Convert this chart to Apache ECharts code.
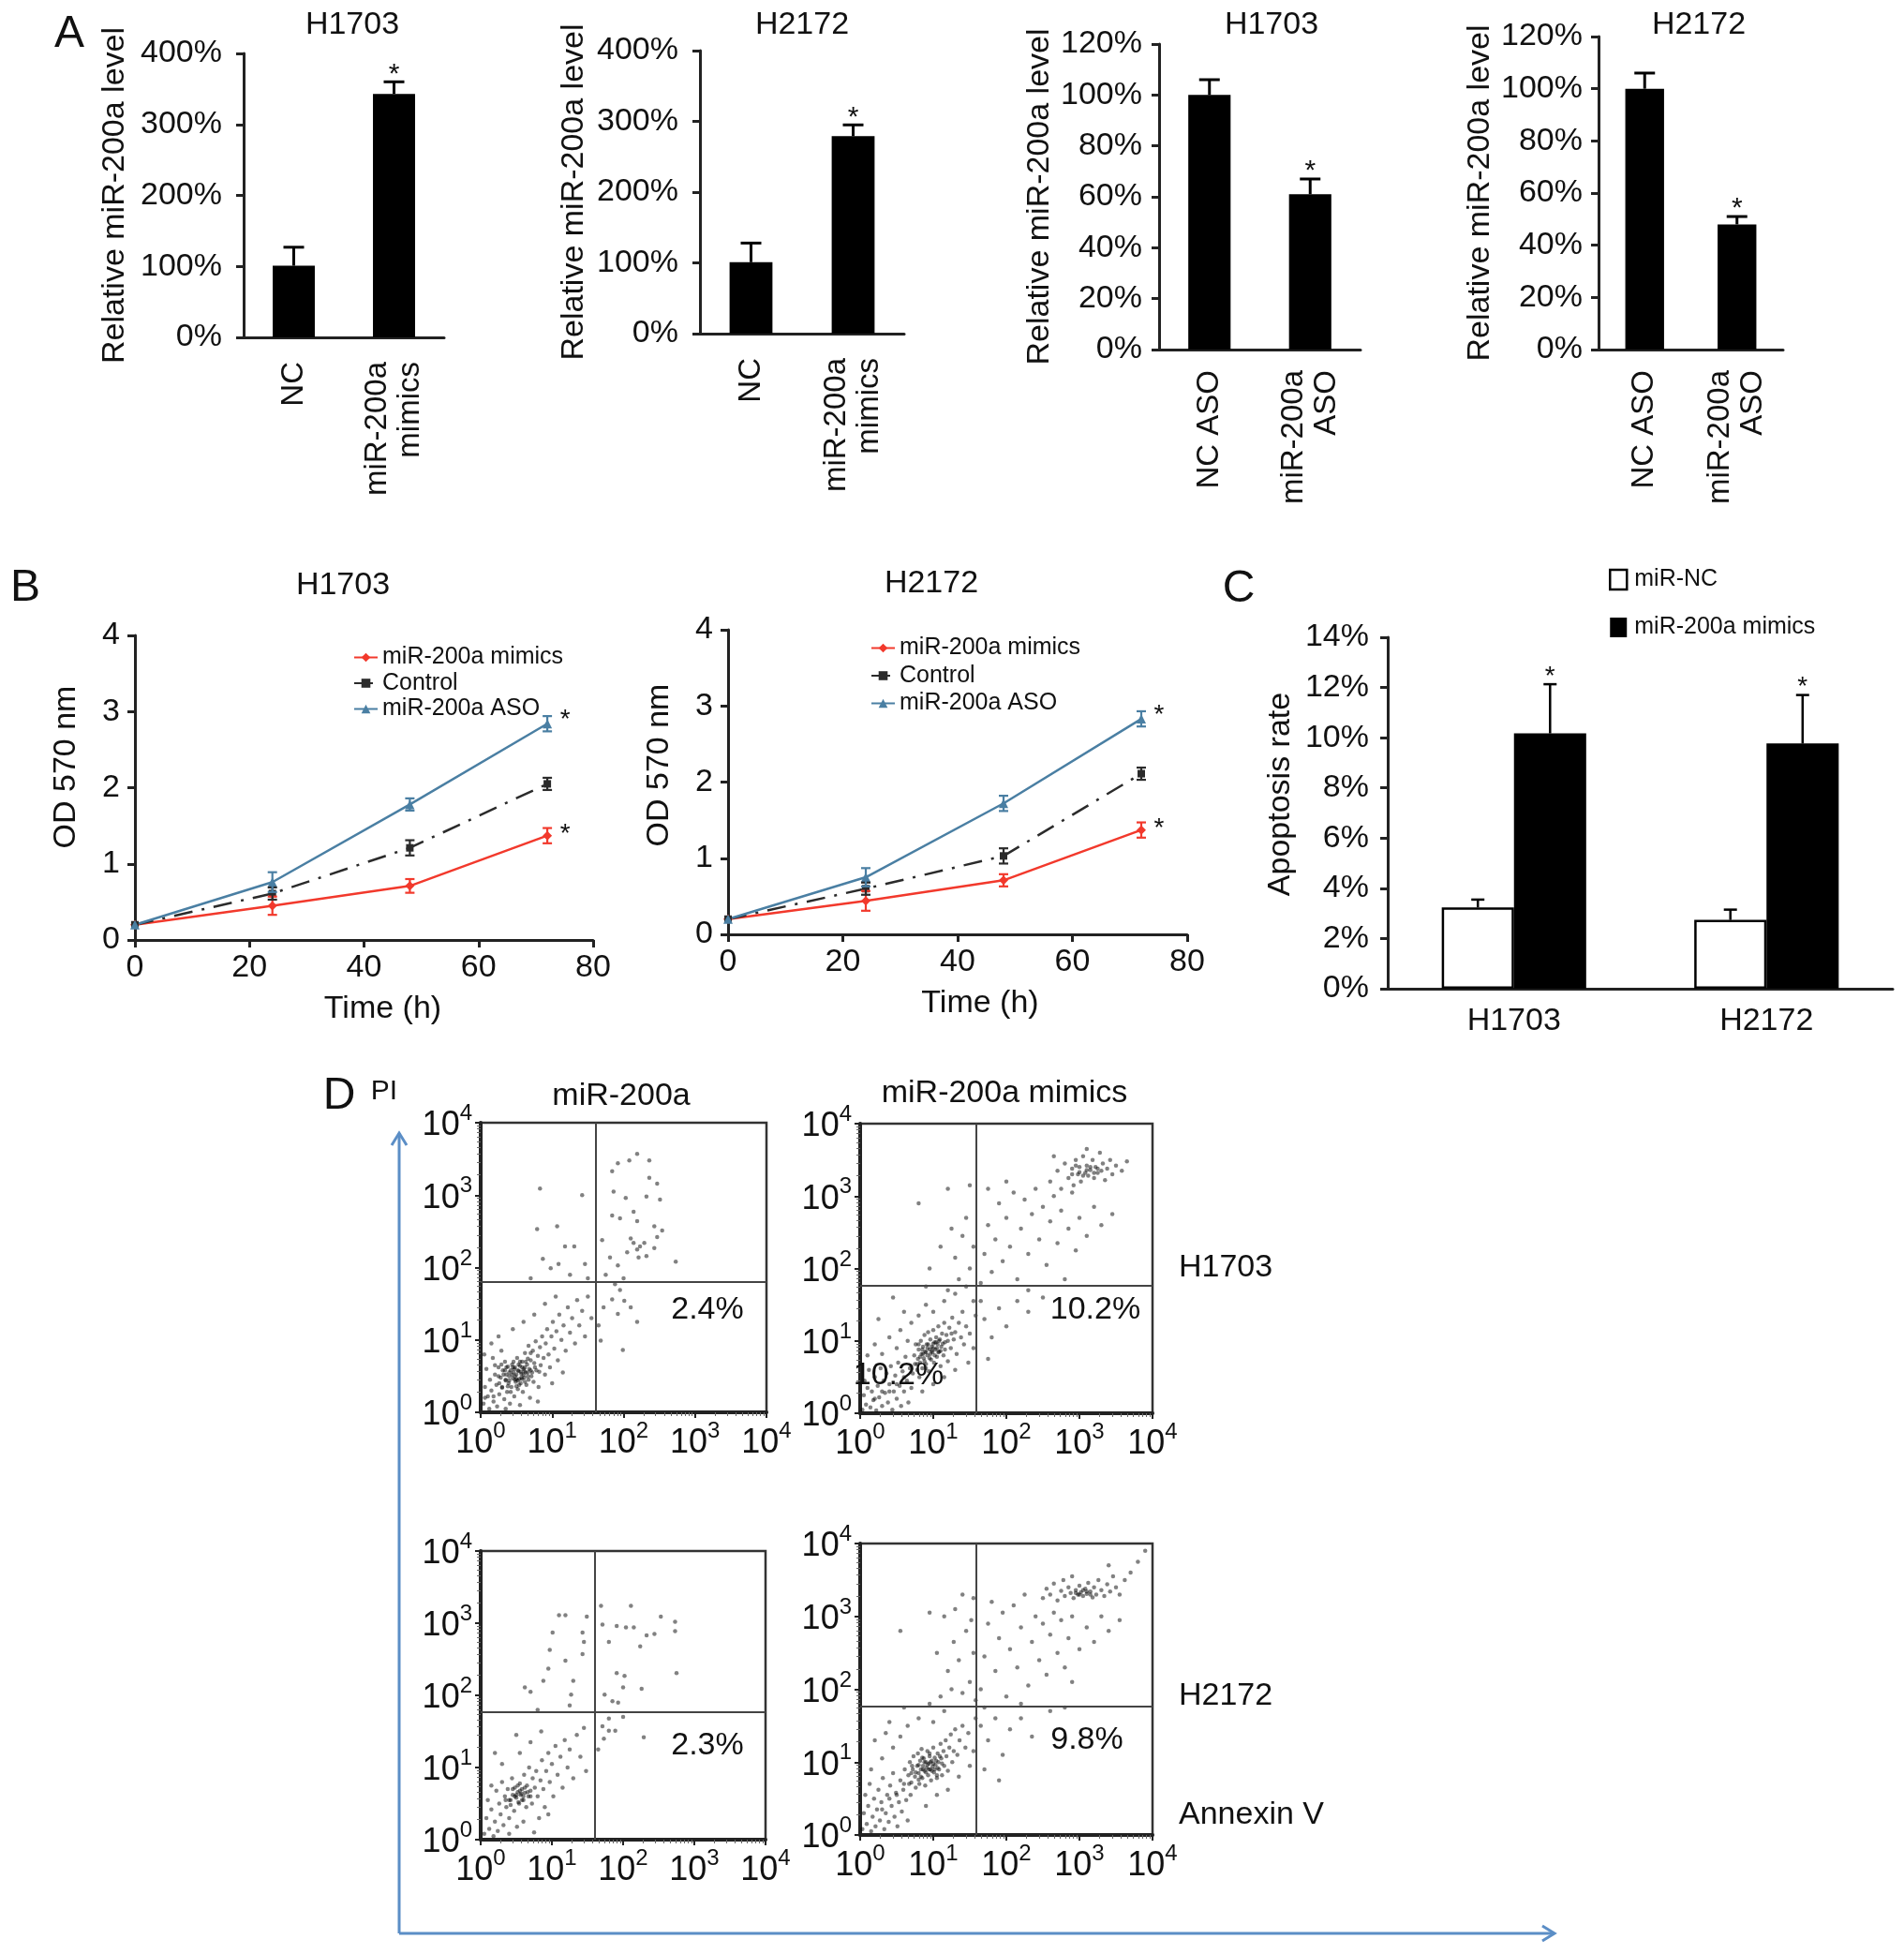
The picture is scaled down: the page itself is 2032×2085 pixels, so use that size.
<!DOCTYPE html>
<html>
<head>
<meta charset="utf-8">
<script src="https://cdn.jsdelivr.net/npm/echarts/dist/echarts.min.js"></script>
<style>
  html, body { margin: 0; padding: 0; background: #fff; }
  #chart { width: 2032px; height: 2085px; }
</style>
</head>
<body>
<div id="chart"></div>
<script>
// ---------- data ----------

// A: relative miR-200a level (% of NC)
const aCatsMimic = ['NC', 'miR-200a\nmimics'];
const aCatsAso = ['NC ASO', 'miR-200a\nASO'];
const aH1703Mimic = [101, 343];
const aH1703MimicErr = [26, 17];
const aH2172Mimic = [101, 279];
const aH2172MimicErr = [27, 16];
const aH1703Aso = [100, 61];
const aH1703AsoErr = [6, 6];
const aH2172Aso = [100, 48];
const aH2172AsoErr = [6, 3];
const aStars = [0, 1];

// B: OD 570 nm over time (h)
const bTimes = [0, 24, 48, 72];
const bH1703Mimic = [0.2, 0.45, 0.71, 1.37];
const bH1703MimicErr = [0, 0.12, 0.09, 0.1];
const bH1703Ctrl = [0.2, 0.61, 1.21, 2.05];
const bH1703CtrlErr = [0, 0.08, 0.1, 0.08];
const bH1703Aso = [0.2, 0.76, 1.78, 2.84];
const bH1703AsoErr = [0, 0.13, 0.08, 0.1];
const bH2172Mimic = [0.2, 0.44, 0.71, 1.37];
const bH2172MimicErr = [0, 0.13, 0.08, 0.1];
const bH2172Ctrl = [0.2, 0.6, 1.03, 2.11];
const bH2172CtrlErr = [0, 0.08, 0.1, 0.08];
const bH2172Aso = [0.2, 0.75, 1.72, 2.83];
const bH2172AsoErr = [0, 0.12, 0.1, 0.1];
const bStars = [0, 0, 0, 1];

// C: apoptosis rate (%)
const cCats = ['H1703', 'H2172'];
const cNC = [3.24, 2.74];
const cNCErr = [0.31, 0.41];
const cMimic = [10.17, 9.77];
const cMimicErr = [1.96, 1.93];
const cStars = [1, 1];

// D: flow cytometry events, [log10 Annexin V, log10 PI]
const dH1703Ctrl = [
  [0.04,0.12],[0.06,0.35],[0.08,0.6],[0.1,0.22],[0.12,0.05],[0.13,0.45],[0.15,0.3],[0.17,0.75],[0.18,0.15],[0.2,0.52],
  [0.22,0.38],[0.23,0.08],[0.25,0.62],[0.26,0.25],[0.28,0.48],[0.29,0.85],[0.3,0.34],[0.31,0.58],[0.33,0.18],[0.34,0.7],
  [0.35,0.44],[0.36,0.52],[0.37,0.28],[0.38,0.63],[0.39,0.4],[0.4,0.5],[0.41,0.12],[0.42,0.58],[0.43,0.35],[0.44,0.66],
  [0.45,0.47],[0.46,0.55],[0.47,0.22],[0.48,0.62],[0.49,0.42],[0.5,0.52],[0.51,0.75],[0.52,0.32],[0.53,0.57],[0.54,0.46],
  [0.55,0.64],[0.56,0.4],[0.57,0.53],[0.58,0.7],[0.59,0.28],[0.6,0.6],[0.61,0.48],[0.62,0.82],[0.63,0.55],[0.64,0.38],
  [0.65,0.66],[0.66,0.5],[0.67,0.92],[0.68,0.6],[0.69,0.2],[0.7,0.72],[0.72,0.55],[0.73,0.85],[0.74,0.42],[0.75,0.68],
  [0.77,0.98],[0.78,0.58],[0.8,0.78],[0.81,0.35],[0.83,0.9],[0.84,0.65],[0.86,1.05],[0.88,0.75],[0.9,0.52],[0.91,0.95],
  [0.93,1.15],[0.95,0.8],[0.97,0.62],[0.99,1.05],[1.01,1.25],[1.03,0.88],[1.06,1.12],[1.08,0.72],[1.1,1.35],[1.13,1.0],
  [1.16,1.2],[1.19,0.85],[1.22,1.45],[1.25,1.1],[1.28,1.3],[1.32,0.95],[1.35,1.55],[1.38,1.2],[1.42,1.4],[1.46,1.05],
  [1.5,1.6],[1.55,1.3],[0.15,0.95],[0.25,1.05],[0.45,1.15],[0.6,1.25],[0.75,1.35],[0.9,1.5],[1.05,1.6],[0.35,0.05],
  [0.55,0.1],[0.8,0.15],[1.0,0.4],[1.15,0.55],[0.2,0.65],[0.05,0.8],[0.45,0.62],[0.52,0.58],[0.58,0.46],[0.62,0.62],
  [0.55,0.7],[0.48,0.45],[0.4,0.55],[0.66,0.55],[0.7,0.82],[0.35,0.45],[0.3,0.35],[0.25,0.5],[0.18,0.22],[0.06,0.2],
  [0.32,0.52],[0.36,0.62],[0.4,0.44],[0.44,0.52],[0.47,0.6],[0.5,0.36],[0.53,0.66],[0.56,0.56],[0.6,0.52],[0.63,0.7],
  [0.67,0.45],[0.7,0.58],[0.26,0.4],[0.29,0.66],[0.42,0.28],[0.46,0.7],[0.5,0.46],[0.54,0.38],[0.58,0.62],[0.62,0.42],
  [0.66,0.74],[0.71,0.5],[0.76,0.62],[0.82,0.56],[0.38,0.36],[0.34,0.58],[0.48,0.5],[0.52,0.44],[0.57,0.48],[0.61,0.57],
  [0.83,3.09],[1.42,3.0],[0.79,2.53],[1.07,2.57],[1.31,2.29],[1.18,2.29],[1.46,2.05],[1.09,2.05],[0.98,1.99],[0.87,2.12],
  [1.25,1.9],[0.7,1.85],[1.5,1.85],
  [1.84,3.33],[2.08,3.48],[2.19,3.57],[1.92,3.44],[2.36,3.48],[1.86,3.05],[2.03,2.96],[2.36,3.24],[2.47,3.16],[2.51,2.94],
  [2.32,2.98],[2.14,2.77],[1.84,2.72],[1.95,2.68],[2.19,2.64],[2.43,2.57],[2.54,2.51],[2.47,2.42],[2.1,2.4],[2.14,2.34],
  [2.23,2.29],[2.29,2.34],[2.19,2.25],[2.05,2.21],[2.21,2.14],[2.43,2.27],[2.73,2.08],[1.81,2.14],[1.7,2.38],[1.92,2.03],
  [2.32,2.16],[1.75,1.9],[2.0,1.85],
  [1.84,1.56],[1.95,1.69],[2.01,1.54],[2.1,1.45],[2.19,1.25],[1.99,0.86],[1.92,1.36],[1.68,0.99],[1.88,1.77],[1.65,1.2],
  [1.72,1.45]
];
const dH1703Mimic = [
  [0.03,0.05],[0.05,0.25],[0.06,0.45],[0.08,0.12],[0.1,0.35],[0.12,0.6],[0.14,0.08],[0.16,0.3],[0.18,0.18],[0.2,0.5],
  [0.22,0.04],[0.24,0.38],[0.26,0.22],[0.28,0.62],[0.3,0.1],[0.32,0.45],[0.34,0.28],[0.36,0.55],[0.38,0.15],[0.4,0.4],
  [0.42,0.65],[0.44,0.05],[0.46,0.3],[0.48,0.52],[0.5,0.2],[0.52,0.7],[0.54,0.38],[0.56,0.1],[0.58,0.58],[0.6,0.3],
  [0.62,0.78],[0.64,0.45],[0.66,0.15],[0.68,0.62],[0.7,0.35],
  [0.72,0.55],[0.74,0.8],[0.75,0.68],[0.76,0.95],[0.78,0.6],[0.79,0.75],[0.8,0.88],[0.81,0.5],[0.82,0.7],[0.83,1.0],
  [0.84,0.82],[0.85,0.62],[0.86,0.92],[0.87,0.76],[0.88,1.08],[0.89,0.85],[0.9,0.68],[0.91,0.95],[0.92,0.8],[0.93,1.12],
  [0.94,0.58],[0.95,0.88],[0.96,1.02],[0.97,0.74],[0.98,0.92],[0.99,0.84],[1.0,1.15],[1.01,0.7],[1.02,0.98],[1.03,0.88],
  [1.04,1.05],[1.05,0.78],[1.06,0.95],[1.07,1.2],[1.08,0.85],[1.09,1.02],[1.1,0.65],[1.11,0.92],[1.12,1.1],[1.14,0.8],
  [1.15,1.25],[1.16,0.98],[1.18,1.08],[1.2,0.72],[1.22,1.18],[1.24,0.9],[1.26,1.32],[1.28,1.02],[1.3,1.12],[1.32,0.82],
  [1.35,1.25],[1.38,1.05],[1.4,1.4],[1.42,0.95],[1.45,1.2],
  [0.78,0.68],[0.82,0.78],[0.85,0.88],[0.88,0.72],[0.9,0.84],[0.93,0.95],[0.95,0.76],[0.98,0.86],[1.0,0.96],[1.02,0.8],
  [1.05,0.9],[1.08,1.0],[1.1,0.86],[1.13,0.96],[1.16,0.88],[1.2,1.0],[0.86,0.82],[0.92,0.9],[0.96,0.82],[1.0,0.9],
  [1.04,0.98],[1.07,0.84],[0.8,0.95],[0.9,0.62],[1.25,1.1],[0.6,0.5],[0.5,0.4],[0.4,0.3],[0.3,0.3],[0.2,0.2],
  [0.1,0.8],[0.2,0.95],[0.3,0.82],[0.4,1.05],[0.5,0.9],[0.55,1.15],[0.65,1.0],[0.7,1.25],[0.6,1.4],[0.8,1.35],
  [0.9,1.5],[1.0,1.4],[1.15,1.55],[1.3,1.65],[0.85,0.3],[1.0,0.4],[1.15,0.5],[1.3,0.6],[1.48,0.7],[1.55,0.9],
  [1.5,1.1],[1.58,1.35],[1.55,1.55],[0.25,1.3],[0.45,1.6],
  [1.2,1.7],[1.35,1.85],[1.45,1.75],[1.5,2.0],[1.3,2.15],[1.55,2.3],[1.4,2.45],[0.95,2.0],[1.1,2.3],[1.25,2.55],
  [1.45,2.7],[1.2,3.1],[0.8,2.9],[1.5,3.15],[0.9,1.75],
  [1.65,1.8],[1.7,2.2],[1.75,2.6],[1.8,1.95],[1.85,2.4],[1.9,2.9],[1.95,2.1],[2.0,2.7],[2.05,2.3],[2.1,3.05],
  [2.15,1.85],[2.2,2.55],[2.25,2.95],[2.3,2.2],[2.35,2.75],[2.4,3.1],[2.45,2.4],[2.5,2.85],[2.55,2.05],[2.6,2.65],
  [2.65,3.0],[2.7,2.35],[2.75,2.8],[2.8,1.85],[2.85,2.55],[2.9,3.05],[2.95,2.25],[3.0,2.7],[3.1,2.45],[3.2,2.85],
  [3.3,2.6],[3.45,2.75],[2.3,1.7],[1.75,3.1],[2.0,3.2],
  [2.6,3.2],[2.7,3.35],[2.75,3.1],[2.8,3.45],[2.85,3.25],[2.9,3.38],[2.92,3.15],[2.95,3.5],[2.98,3.3],[3.0,3.4],
  [3.02,3.2],[3.05,3.55],[3.08,3.32],[3.1,3.42],[3.12,3.28],[3.15,3.36],[3.18,3.5],[3.2,3.25],[3.22,3.4],[3.25,3.32],
  [3.28,3.6],[3.3,3.35],[3.32,3.45],[3.35,3.22],[3.38,3.38],[3.42,3.5],[3.45,3.3],[3.5,3.42],[3.58,3.35],[3.65,3.48],
  [3.1,3.65],[2.65,3.55],[2.9,3.3],[3.0,3.33],[3.1,3.36],[3.2,3.32],[3.05,3.28],[3.15,3.4],[2.95,3.42],[3.25,3.38],
  [1.7,1.3],[1.8,1.05],[1.9,1.45],[2.0,1.2],[2.15,1.55],[2.3,1.4],[1.75,0.75],[2.5,1.6],[1.65,1.55]
];
const dH2172Ctrl = [
  [0.05,0.08],[0.08,0.3],[0.1,0.55],[0.12,0.15],[0.15,0.42],[0.18,0.05],[0.2,0.25],[0.22,0.68],[0.24,0.12],[0.26,0.5],
  [0.28,0.35],[0.3,0.8],[0.32,0.2],[0.34,0.6],[0.36,0.45],[0.38,0.7],[0.4,0.3],[0.42,0.55],[0.44,0.85],[0.45,0.62],
  [0.47,0.4],[0.48,0.72],[0.5,0.58],[0.51,0.18],[0.52,0.66],[0.54,0.5],[0.55,0.78],[0.56,0.62],[0.58,0.7],[0.6,0.55],
  [0.61,0.9],[0.62,0.65],[0.64,0.45],[0.65,0.75],[0.67,0.6],[0.68,1.0],[0.7,0.68],[0.72,0.5],[0.73,0.85],[0.75,0.1],
  [0.76,0.72],[0.78,0.95],[0.8,0.6],[0.82,0.3],[0.84,0.82],[0.86,1.1],[0.88,0.7],[0.9,0.45],[0.92,0.95],[0.95,1.2],
  [0.97,0.8],[1.0,1.05],[1.02,0.6],[1.05,1.3],[1.08,0.9],[1.12,1.15],[1.15,0.72],[1.18,1.38],[1.22,1.0],[1.25,1.25],
  [1.3,0.85],[1.35,1.45],[1.4,1.15],[1.45,1.55],[1.48,0.95],[0.3,1.05],[0.55,1.2],[0.7,1.35],[0.15,0.75],[0.4,0.08],
  [0.6,0.25],[0.95,0.35],[0.2,1.2],[0.85,1.5],[0.5,1.45],
  [0.4,0.55],[0.45,0.7],[0.5,0.62],[0.55,0.68],[0.6,0.6],[0.62,0.72],[0.58,0.55],[0.48,0.6],[0.52,0.75],[0.66,0.66],
  [0.42,0.48],[0.7,0.6],[0.35,0.55],[0.53,0.52],[0.57,0.64],
  [1.1,3.11],[1.19,3.11],[1.01,2.87],[0.97,2.63],[1.19,2.48],[0.95,2.37],[0.88,2.2],[0.62,2.11],[0.7,2.05],[1.43,2.87],
  [1.45,2.74],[1.43,2.57],[1.49,3.09],[1.69,3.24],[1.71,2.98],[1.8,2.74],[1.91,2.96],[2.04,2.94],[2.11,3.24],[2.15,2.94],
  [2.24,2.68],[2.33,2.83],[2.44,2.85],[2.53,3.09],[2.73,3.02],[2.73,2.89],[1.91,2.31],[2.02,2.27],[2.0,2.11],[2.26,2.09],
  [2.75,2.31],[1.74,2.01],[1.85,1.92],[1.93,1.9],[1.27,2.01],[1.25,1.86],[1.3,2.2],[0.8,1.8],
  [1.8,1.68],[2.0,1.7],[1.71,1.57],[1.8,1.51],[1.89,1.51],[1.73,1.4],[2.29,1.42],[1.65,1.25]
];
const dH2172Mimic = [
  [0.03,0.08],[0.05,0.3],[0.07,0.55],[0.09,0.15],[0.11,0.4],[0.13,0.7],[0.15,0.05],[0.17,0.25],[0.19,0.5],[0.21,0.12],
  [0.23,0.35],[0.25,0.62],[0.27,0.2],[0.29,0.45],[0.31,0.78],[0.33,0.08],[0.35,0.3],[0.37,0.55],[0.39,0.18],[0.41,0.68],
  [0.43,0.4],[0.45,0.85],[0.47,0.25],[0.49,0.58],[0.51,0.12],[0.53,0.45],[0.55,0.75],[0.57,0.32],[0.59,0.62],[0.61,0.9],
  [0.63,0.48],[0.65,0.2],[0.67,0.7],[0.69,0.55],[0.71,0.95],
  [0.66,0.82],[0.68,1.0],[0.7,0.72],[0.72,0.9],[0.73,1.08],[0.75,0.8],[0.76,0.65],[0.78,0.95],[0.79,1.12],[0.8,0.85],
  [0.81,0.7],[0.82,1.02],[0.83,0.9],[0.84,1.18],[0.85,0.78],[0.86,0.95],[0.87,1.05],[0.88,0.88],[0.89,0.68],[0.9,1.0],
  [0.91,0.92],[0.92,1.15],[0.93,0.82],[0.94,0.98],[0.95,1.08],[0.96,0.9],[0.97,0.75],[0.98,1.02],[0.99,0.94],[1.0,1.2],
  [1.01,0.86],[1.02,1.06],[1.03,0.96],[1.05,0.78],[1.06,1.12],[1.07,1.0],[1.08,0.9],[1.1,1.25],[1.11,1.05],[1.12,0.82],
  [1.14,1.15],[1.15,0.95],[1.17,1.3],[1.18,1.08],[1.2,0.88],[1.22,1.2],[1.24,1.38],[1.26,1.0],[1.28,1.15],[1.3,1.45],
  [1.33,1.1],[1.36,1.3],[1.4,1.5],[1.44,1.2],[1.48,1.4],
  [0.76,0.86],[0.8,0.96],[0.83,0.8],[0.86,0.9],[0.88,1.0],[0.9,0.86],[0.92,0.96],[0.94,0.9],[0.96,1.0],[0.98,0.88],
  [1.0,0.98],[1.02,0.9],[1.04,1.02],[1.06,0.92],[1.09,1.08],[1.12,0.98],[0.85,1.06],[0.95,1.12],[1.05,0.82],[0.8,0.76],
  [0.7,0.85],[0.6,0.7],[0.5,0.55],[0.4,0.5],[0.3,0.35],
  [0.15,0.9],[0.3,1.05],[0.45,1.2],[0.55,1.35],[0.4,1.55],[0.65,1.5],[0.8,1.6],[0.2,1.3],[1.0,1.55],[1.15,1.7],
  [0.9,0.4],[1.05,0.55],[1.2,0.62],[1.35,0.8],[1.5,0.95],[1.55,1.15],[1.58,1.6],[0.6,1.75],[0.95,1.8],[0.35,1.4],
  [1.1,1.9],[1.25,2.0],[1.4,1.95],[1.5,2.1],[1.2,2.25],[1.35,2.4],[1.55,2.5],[1.28,2.65],[1.45,2.8],[1.52,2.95],
  [1.15,3.0],[1.3,3.1],[1.4,3.3],[1.55,3.25],[0.95,3.05],[1.05,2.5],[1.58,1.85],[0.55,2.8],
  [1.65,2.0],[1.7,2.45],[1.75,2.9],[1.8,3.2],[1.85,2.25],[1.9,2.7],[1.95,3.05],[2.0,1.9],[2.05,2.55],[2.1,3.15],
  [2.15,2.3],[2.2,2.85],[2.25,3.3],[2.3,2.05],[2.35,2.65],[2.4,3.0],[2.45,2.4],[2.5,2.9],[2.55,2.2],[2.6,2.75],
  [2.65,3.05],[2.7,2.5],[2.75,2.95],[2.8,2.3],[2.85,2.7],[2.9,3.0],[3.0,2.55],[3.1,2.85],[3.2,2.65],[3.3,3.0],
  [3.4,2.8],[2.9,2.1],[1.7,1.75],[2.2,1.8],[3.55,2.95],
  [2.5,3.25],[2.55,3.38],[2.6,3.3],[2.65,3.45],[2.7,3.22],[2.75,3.35],[2.78,3.5],[2.8,3.28],[2.85,3.4],[2.88,3.32],
  [2.9,3.55],[2.92,3.25],[2.95,3.36],[2.98,3.3],[3.0,3.42],[3.02,3.33],[3.05,3.28],[3.08,3.38],[3.1,3.31],[3.12,3.46],
  [3.15,3.34],[3.18,3.26],[3.2,3.4],[3.23,3.3],[3.26,3.5],[3.3,3.36],[3.34,3.28],[3.38,3.44],[3.42,3.34],[3.46,3.55],
  [3.5,3.4],[3.55,3.3],[3.62,3.5],[3.7,3.6],[3.8,3.75],[3.9,3.9],[3.4,3.7],
  [2.95,3.32],[3.0,3.3],[3.05,3.36],[3.1,3.34],[3.15,3.3],
  [1.65,1.5],[1.75,1.3],[1.85,1.6],[1.95,1.1],[2.05,1.45],[2.2,1.6],[2.35,1.35],[1.7,0.9],[2.6,1.7],[2.8,1.75],[1.9,0.75]
];
// quadrant gates [log10 Annexin V, log10 PI]
const dGates = [[1.61, 1.80], [1.59, 1.76], [1.60, 1.77], [1.59, 1.76]];
const dLogTicks = [0, 1, 2, 3, 4];

// ---------- styling ----------
const FONT = '"Liberation Sans", Arial, Helvetica, sans-serif';
const FS = 34;
const INK = '#111';
const AX = '#222';
const RED = '#f2392c';
const BLUE = '#4a7fa3';
const CTRL = '#2b2b2b';
const ARROW = '#5b8ec6';

const grids = [], xAxes = [], yAxes = [], series = [], legends = [], elements = [];

function txt(s, x, y, size, align) {
  const a = align || 'center';
  return { type: 'text', x: x, y: y, z: 100, silent: true,
    style: { text: s, font: size + 'px ' + FONT, fill: INK, align: a, verticalAlign: 'middle',
      textAlign: a, textVerticalAlign: 'middle' } };
}

// error bar renderer (one-sided up, or both directions), with optional star
function errBar(o) {
  return function (params, api) {
    const v = api.value(1), e = api.value(2), star = api.value(3);
    const p = api.coord([api.value(0), v]);
    const x = p[0] + (o.offset ? api.size([1, 0])[0] * o.offset : 0);
    const top = api.coord([api.value(0), v + e])[1];
    const bot = o.both ? api.coord([api.value(0), v - e])[1] : p[1];
    const st = { stroke: o.color, lineWidth: o.width };
    const kids = [];
    if (e > 0) {
      kids.push({ type: 'line', shape: { x1: x, y1: bot, x2: x, y2: top }, style: st });
      kids.push({ type: 'line', shape: { x1: x - o.cap / 2, y1: top, x2: x + o.cap / 2, y2: top }, style: st });
      if (o.both) kids.push({ type: 'line', shape: { x1: x - o.cap / 2, y1: bot, x2: x + o.cap / 2, y2: bot }, style: st });
    }
    if (star) {
      const sy = o.starAtPoint ? p[1] + o.starDy : top + o.starDy;
      kids.push({ type: 'text', x: x + (o.starDx || 0), y: sy,
        style: { text: '*', font: o.starSize + 'px ' + FONT, fill: INK, align: 'center', verticalAlign: 'middle',
          textAlign: 'center', textVerticalAlign: 'middle' } });
    }
    return { type: 'group', children: kids };
  };
}

function valueAxisBase(gi) {
  return { gridIndex: gi, axisLine: { show: true, lineStyle: { color: AX, width: 3 } },
    axisTick: { show: true, length: 8, lineStyle: { color: AX, width: 3 } }, splitLine: { show: false } };
}

// ---------- panel A ----------
const aPanels = [
  { title: 'H1703', cats: aCatsMimic, vals: aH1703Mimic, errs: aH1703MimicErr, max: 400, step: 100,
    box: [260, 57, 214, 303], tx: 376, gap: 120, lm: 23, cm: 26 },
  { title: 'H2172', cats: aCatsMimic, vals: aH2172Mimic, errs: aH2172MimicErr, max: 400, step: 100,
    box: [747, 54, 218, 302], tx: 856, gap: 117, lm: 23, cm: 26 },
  { title: 'H1703', cats: aCatsAso, vals: aH1703Aso, errs: aH1703AsoErr, max: 120, step: 20,
    box: [1237, 47, 215, 326], tx: 1357, gap: 110, lm: 18, cm: 22 },
  { title: 'H2172', cats: aCatsAso, vals: aH2172Aso, errs: aH2172AsoErr, max: 120, step: 20,
    box: [1706, 39, 197, 334], tx: 1813, gap: 109, lm: 17, cm: 22 }
];
aPanels.forEach(function (p) {
  const gi = grids.length;
  grids.push({ left: p.box[0], top: p.box[1], width: p.box[2], height: p.box[3] });
  xAxes.push({ gridIndex: gi, type: 'category', data: p.cats,
    axisLine: { lineStyle: { color: AX, width: 3 } }, axisTick: { length: 10, lineStyle: { color: AX, width: 3 } },
    axisLabel: { rotate: 90, fontSize: 33, fontFamily: FONT, color: INK, margin: p.cm, lineHeight: 35 } });
  yAxes.push(Object.assign(valueAxisBase(gi), { type: 'value', min: 0, max: p.max, interval: p.step,
    name: 'Relative miR-200a level', nameLocation: 'middle', nameGap: p.gap, nameRotate: 90,
    nameTextStyle: { fontSize: FS, fontFamily: FONT, color: INK },
    axisLabel: { formatter: '{value}%', fontSize: FS, fontFamily: FONT, color: INK, margin: p.lm } }));
  series.push({ type: 'bar', xAxisIndex: gi, yAxisIndex: gi, data: p.vals, barWidth: '42%',
    itemStyle: { color: '#000' }, silent: true });
  series.push({ type: 'custom', xAxisIndex: gi, yAxisIndex: gi, z: 5, clip: false, silent: true,
    data: p.vals.map(function (v, i) { return [i, v, p.errs[i], aStars[i]]; }),
    renderItem: errBar({ cap: 22, width: 3, color: '#000', starDy: -8, starSize: 30 }) });
  elements.push(txt(p.title, p.tx, 27, FS));
});

// ---------- panel B ----------
const bPanels = [
  { title: 'H1703', box: [144, 678, 489, 325], tx: 366, ty: 625,
    mimic: bH1703Mimic, mimicErr: bH1703MimicErr, ctrl: bH1703Ctrl, ctrlErr: bH1703CtrlErr, aso: bH1703Aso, asoErr: bH1703AsoErr,
    legend: { left: 372, top: 684, itemGap: 2.5 }, yPad: 44, xPad: 40 },
  { title: 'H2172', box: [777, 672, 490, 325], tx: 994, ty: 623,
    mimic: bH2172Mimic, mimicErr: bH2172MimicErr, ctrl: bH2172Ctrl, ctrlErr: bH2172CtrlErr, aso: bH2172Aso, asoErr: bH2172AsoErr,
    legend: { left: 924, top: 674, itemGap: 4.5 }, yPad: 36, xPad: 48 }
];
bPanels.forEach(function (p) {
  const gi = grids.length;
  grids.push({ left: p.box[0], top: p.box[1], width: p.box[2], height: p.box[3] });
  xAxes.push(Object.assign(valueAxisBase(gi), { type: 'value', min: 0, max: 80, interval: 20,
    name: 'Time (h)', nameLocation: 'middle', nameGap: 57,
    nameTextStyle: { fontSize: FS, fontFamily: FONT, color: INK, padding: [0, 0, 0, p.xPad] },
    axisLabel: { fontSize: FS, fontFamily: FONT, color: INK, margin: 13 } }));
  yAxes.push(Object.assign(valueAxisBase(gi), { type: 'value', min: 0, max: 4, interval: 1,
    name: 'OD 570 nm', nameLocation: 'middle', nameGap: 56, nameRotate: 90,
    nameTextStyle: { fontSize: FS, fontFamily: FONT, color: INK, padding: [0, 0, 0, p.yPad] },
    axisLabel: { fontSize: FS, fontFamily: FONT, color: INK, margin: 16 } }));
  const defs = [
    { name: 'miR-200a mimics', v: p.mimic, e: p.mimicErr, color: RED, symbol: 'diamond', size: 10, type: 'solid', star: bStars, sdy: -1 },
    { name: 'Control', v: p.ctrl, e: p.ctrlErr, color: CTRL, symbol: 'rect', size: 8, type: [20, 10, 3, 10], star: [0, 0, 0, 0], sdy: 0 },
    { name: 'miR-200a ASO', v: p.aso, e: p.asoErr, color: BLUE, symbol: 'triangle', size: 10, type: 'solid', star: bStars, sdy: -4 }
  ];
  defs.forEach(function (d) {
    series.push({ name: d.name, type: 'line', xAxisIndex: gi, yAxisIndex: gi, z: 3,
      data: bTimes.map(function (t, i) { return [t, d.v[i]]; }),
      symbol: d.symbol, symbolSize: d.size, showAllSymbol: true,
      lineStyle: { color: d.color, width: 2.5, type: d.type }, itemStyle: { color: d.color } });
    series.push({ type: 'custom', xAxisIndex: gi, yAxisIndex: gi, z: 4, clip: false, silent: true,
      data: bTimes.map(function (t, i) { return [t, d.v[i], d.e[i], d.star[i]]; }),
      renderItem: errBar({ cap: 10, width: 2.2, color: d.color, both: true, starAtPoint: true,
        starDx: 19, starDy: d.sdy, starSize: 28 }) });
  });
  legends.push({ orient: 'vertical', left: p.legend.left, top: p.legend.top, itemGap: p.legend.itemGap,
    itemWidth: 25, itemHeight: 12, selectedMode: false,
    data: ['miR-200a mimics', 'Control', 'miR-200a ASO'],
    textStyle: { fontSize: 25, fontFamily: FONT, color: INK, lineHeight: 25 } });
  elements.push(txt(p.title, p.tx, p.ty, FS));
});

// ---------- panel C ----------
(function () {
  const gi = grids.length;
  grids.push({ left: 1481, top: 680, width: 539, height: 375 });
  xAxes.push({ gridIndex: gi, type: 'category', data: cCats,
    axisLine: { lineStyle: { color: AX, width: 3 } }, axisTick: { length: 10, lineStyle: { color: AX, width: 3 } },
    axisLabel: { fontSize: FS, fontFamily: FONT, color: INK, margin: 18 } });
  yAxes.push(Object.assign(valueAxisBase(gi), { type: 'value', min: 0, max: 14, interval: 2,
    name: 'Apoptosis rate', nameLocation: 'middle', nameGap: 97, nameRotate: 90,
    nameTextStyle: { fontSize: FS, fontFamily: FONT, color: INK, padding: [0, 0, 0, 40] },
    axisLabel: { formatter: '{value}%', fontSize: FS, fontFamily: FONT, color: INK, margin: 20 } }));
  series.push({ name: 'C-miR-NC', type: 'bar', xAxisIndex: gi, yAxisIndex: gi, data: cNC,
    barWidth: '28.6%', barGap: '0%', itemStyle: { color: '#fff', borderColor: '#000', borderWidth: 2.5 } });
  series.push({ name: 'C-miR-200a mimics', type: 'bar', xAxisIndex: gi, yAxisIndex: gi, data: cMimic,
    barWidth: '28.6%', barGap: '0%', itemStyle: { color: '#000' } });
  series.push({ type: 'custom', xAxisIndex: gi, yAxisIndex: gi, z: 5, clip: false, silent: true,
    data: cNC.map(function (v, i) { return [i, v, cNCErr[i], 0]; }),
    renderItem: errBar({ cap: 14, width: 2.5, color: '#000', offset: -0.143, starDy: -8, starSize: 28 }) });
  series.push({ type: 'custom', xAxisIndex: gi, yAxisIndex: gi, z: 5, clip: false, silent: true,
    data: cMimic.map(function (v, i) { return [i, v, cMimicErr[i], cStars[i]]; }),
    renderItem: errBar({ cap: 14, width: 2.5, color: '#000', offset: 0.143, starDy: -8, starSize: 28 }) });
  legends.push({ orient: 'vertical', left: 1712, top: 601, itemGap: 26, itemWidth: 18, itemHeight: 21,
    icon: 'rect', selectedMode: false,
    formatter: function (n) { return n.slice(2); },
    data: [{ name: 'C-miR-NC', itemStyle: { color: '#fff', borderColor: '#000', borderWidth: 2.5 } },
           { name: 'C-miR-200a mimics', itemStyle: { color: '#000' } }],
    textStyle: { fontSize: 25, fontFamily: FONT, color: INK, lineHeight: 25, padding: [0, 0, 0, 3] } });
})();

// ---------- panel D ----------
const supLabel = {
  formatter: function (v) { return '{b|10}{s|' + Math.round(Math.log10(v)) + '}'; },
  rich: {
    b: { fontSize: 36, fontFamily: FONT, color: INK, padding: [7, 0, 0, 0] },
    s: { fontSize: 24, fontFamily: FONT, color: INK, verticalAlign: 'top' }
  }
};
const dPanels = [
  { pts: dH1703Ctrl, gate: dGates[0], box: [513, 1198, 305, 309] },
  { pts: dH1703Mimic, gate: dGates[1], box: [918, 1199, 312, 309] },
  { pts: dH2172Ctrl, gate: dGates[2], box: [513, 1655, 304, 308] },
  { pts: dH2172Mimic, gate: dGates[3], box: [918, 1647, 312, 311] }
];
dPanels.forEach(function (p) {
  const gi = grids.length;
  grids.push({ left: p.box[0], top: p.box[1], width: p.box[2], height: p.box[3],
    show: true, borderColor: '#333', borderWidth: 2.5 });
  const base = { gridIndex: gi, type: 'log', logBase: 10,
    min: Math.pow(10, dLogTicks[0]), max: Math.pow(10, dLogTicks[dLogTicks.length - 1]),
    axisLine: { show: true, lineStyle: { color: AX, width: 4 } },
    axisTick: { show: true, length: 6, lineStyle: { color: AX, width: 2 } },
    minorTick: { show: true, splitNumber: 10, length: 4, lineStyle: { color: '#666', width: 1 } },
    splitLine: { show: false } };
  xAxes.push(Object.assign({}, base, { axisLabel: Object.assign({ margin: 8 }, supLabel) }));
  yAxes.push(Object.assign({}, base, { axisLabel: Object.assign({ margin: 9 }, supLabel) }));
  series.push({ type: 'scatter', xAxisIndex: gi, yAxisIndex: gi, silent: true, symbolSize: 4.5,
    itemStyle: { color: 'rgba(0,0,0,0.62)' },
    data: p.pts.map(function (q) { return [Math.pow(10, q[0]), Math.pow(10, q[1])]; }),
    markLine: { silent: true, symbol: 'none', animation: false, label: { show: false },
      lineStyle: { color: '#444', width: 2, type: 'solid' },
      data: [{ xAxis: Math.pow(10, p.gate[0]) }, { yAxis: Math.pow(10, p.gate[1]) }] } });
});

// ---------- free text and arrows ----------
elements.push(txt('A', 74, 37, 48));
elements.push(txt('B', 27, 628, 48));
elements.push(txt('C', 1322, 629, 48));
elements.push(txt('D', 362, 1170, 48));
elements.push(txt('PI', 410, 1165, 30));
elements.push(txt('miR-200a', 663, 1170, FS));
elements.push(txt('miR-200a mimics', 1072, 1167, FS));
elements.push(txt('H1703', 1258, 1353, FS, 'left'));
elements.push(txt('H2172', 1258, 1810, FS, 'left'));
elements.push(txt('Annexin V', 1258, 1937, FS, 'left'));
elements.push(txt('2.4%', 755, 1398, FS));
elements.push(txt('10.2%', 1169, 1398, FS));
elements.push(txt('10.2%', 959, 1468, FS));
elements.push(txt('2.3%', 755, 1863, FS));
elements.push(txt('9.8%', 1160, 1857, FS));
const arrowStyle = { stroke: ARROW, lineWidth: 3, fill: null };
elements.push({ type: 'line', silent: true, shape: { x1: 426, y1: 2063, x2: 426, y2: 1209 }, style: arrowStyle });
elements.push({ type: 'polyline', silent: true, shape: { points: [[418, 1222], [426, 1209], [434, 1222]] }, style: arrowStyle });
elements.push({ type: 'line', silent: true, shape: { x1: 426, y1: 2063, x2: 1659, y2: 2063 }, style: arrowStyle });
elements.push({ type: 'polyline', silent: true, shape: { points: [[1646, 2055], [1659, 2063], [1646, 2071]] }, style: arrowStyle });

const chart = echarts.init(document.getElementById('chart'));
chart.setOption({
  animation: false,
  backgroundColor: '#fff',
  textStyle: { fontFamily: FONT },
  grid: grids,
  xAxis: xAxes,
  yAxis: yAxes,
  legend: legends,
  series: series,
  graphic: { elements: elements }
});
</script>
</body>
</html>
